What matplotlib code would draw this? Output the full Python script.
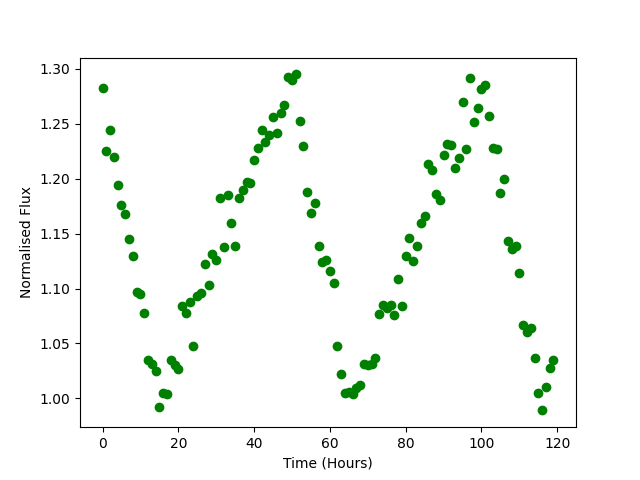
import matplotlib
matplotlib.use("Agg")
import matplotlib.pyplot as plt

hours = [
    0, 1, 2, 3, 4, 5, 6, 7, 8, 9, 10, 11, 12, 13, 14, 15, 16, 17, 18, 19,
    20, 21, 22, 23, 24, 25, 26, 27, 28, 29, 30, 31, 32, 33, 34, 35, 36, 37, 38, 39,
    40, 41, 42, 43, 44, 45, 46, 47, 48, 49, 50, 51, 52, 53, 54, 55, 56, 57, 58, 59,
    60, 61, 62, 63, 64, 65, 66, 67, 68, 69, 70, 71, 72, 73, 74, 75, 76, 77, 78, 79,
    80, 81, 82, 83, 84, 85, 86, 87, 88, 89, 90, 91, 92, 93, 94, 95, 96, 97, 98, 99,
    100, 101, 102, 103, 104, 105, 106, 107, 108, 109, 110, 111, 112, 113, 114, 115,
    116, 117, 118, 119,
]

flux = [
    1.283, 1.225, 1.244, 1.220, 1.194, 1.176, 1.168, 1.145, 1.130, 1.097,
    1.095, 1.078, 1.035, 1.031, 1.025, 0.992, 1.005, 1.004, 1.035, 1.030,
    1.027, 1.084, 1.078, 1.088, 1.048, 1.093, 1.096, 1.122, 1.103, 1.131,
    1.126, 1.182, 1.138, 1.185, 1.160, 1.139, 1.182, 1.190, 1.197, 1.196,
    1.217, 1.228, 1.244, 1.233, 1.240, 1.256, 1.242, 1.260, 1.267, 1.293,
    1.290, 1.295, 1.253, 1.230, 1.188, 1.169, 1.178, 1.139, 1.124, 1.126,
    1.116, 1.105, 1.048, 1.022, 1.005, 1.006, 1.004, 1.009, 1.012, 1.031,
    1.030, 1.031, 1.037, 1.077, 1.085, 1.082, 1.085, 1.076, 1.109, 1.084,
    1.130, 1.146, 1.125, 1.139, 1.160, 1.166, 1.213, 1.208, 1.186, 1.181,
    1.222, 1.232, 1.231, 1.210, 1.219, 1.270, 1.227, 1.292, 1.252, 1.264,
    1.282, 1.285, 1.257, 1.228, 1.227, 1.187, 1.200, 1.143, 1.136, 1.139,
    1.114, 1.067, 1.060, 1.064, 1.037, 1.005, 0.989, 1.010, 1.028, 1.035,
]

fig = plt.figure(figsize=(6.4, 4.8), dpi=100)
plt.plot(hours, flux, "o", color="green")
plt.xlabel("Time (Hours)")
plt.ylabel("Normalised Flux")
plt.savefig("out.png")
